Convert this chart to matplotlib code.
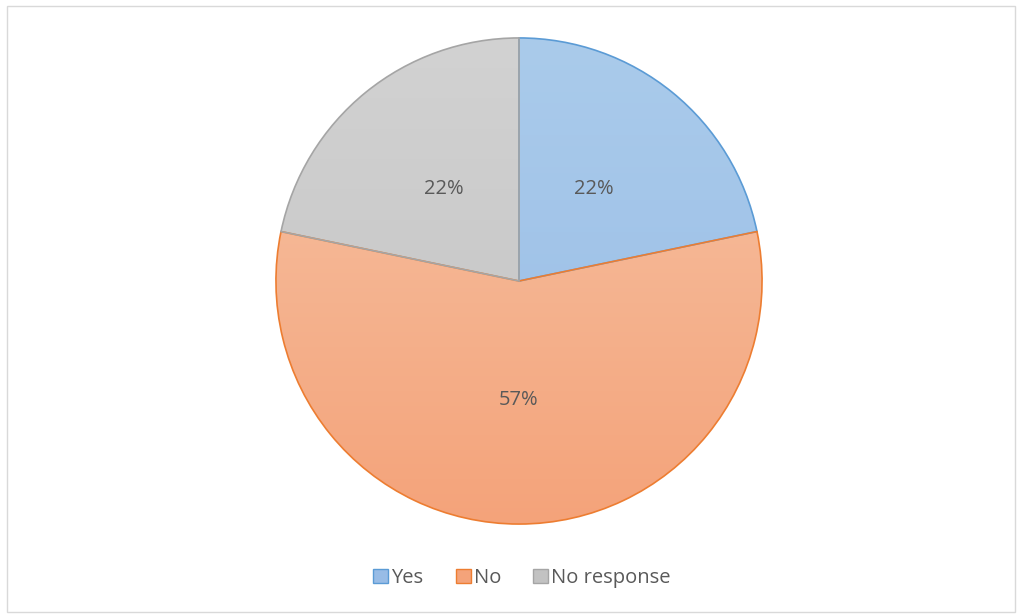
import matplotlib
matplotlib.use('Agg')
import matplotlib.pyplot as plt
import numpy as np
from matplotlib.patches import Rectangle

labels = ['Yes', 'No', 'No response']
counts = [5, 13, 5]
top_colors = ['#AACBEB', '#F6C4A6', '#D2D2D2']
bottom_colors = ['#98BCE6', '#F4A37A', '#C2C2C2']
edge_colors = ['#5B9BD5', '#ED7D31', '#A5A5A5']

plt.rcParams['font.family'] = ['Open Sans', 'DejaVu Sans']

fig = plt.figure(figsize=(10.22, 6.16), dpi=100)
fig.patches.append(Rectangle((0.007, 0.006), 0.986, 0.985, transform=fig.transFigure,
                             fill=False, edgecolor='#D9D9D9', linewidth=1))

cx, cy, r = 519, 281, 245
ax = fig.add_axes([(cx - r) / 1022, (616 - cy - r) / 616, 2 * r / 1022, 2 * r / 616])

wedges, texts, autotexts = ax.pie(counts, startangle=90, counterclock=False,
                                  colors=bottom_colors, autopct='%1.0f%%',
                                  pctdistance=0.49, radius=1,
                                  wedgeprops=dict(linewidth=1.2),
                                  textprops=dict(color='#595959', fontsize=14.5))
ax.set_xlim(-1.008, 1.008)
ax.set_ylim(-1.008, 1.008)
ax.set_aspect('equal')

# vertical gradient fill clipped to each wedge
for w, tc, bc, ec in zip(wedges, top_colors, bottom_colors, edge_colors):
    w.set_facecolor('none')
    w.set_edgecolor(ec)
    w.set_zorder(3)
    c1 = np.array(matplotlib.colors.to_rgb(tc))
    c2 = np.array(matplotlib.colors.to_rgb(bc))
    t = np.linspace(0, 1, 256)[:, None]
    grad = (c1 * (1 - t) + c2 * t)[:, None, :]
    im = ax.imshow(grad, extent=[-1, 1, -1, 1], origin='upper', aspect='auto', zorder=1)
    clip = matplotlib.patches.Wedge(w.center, w.r, w.theta1, w.theta2,
                                    transform=ax.transData)
    im.set_clip_path(clip)
for t in autotexts:
    t.set_zorder(5)

handles = [Rectangle((0, 0), 1, 1, facecolor=bc, edgecolor=ec, linewidth=1)
           for bc, ec in zip(bottom_colors, edge_colors)]
fig.legend(handles, labels, loc='center', bbox_to_anchor=(522 / 1022, 1 - 578 / 616),
           ncol=3, frameon=False, fontsize=14.5, handlelength=0.75, handleheight=0.75,
           handletextpad=0.15, columnspacing=1.6, labelcolor='#595959')

fig.savefig('out.png', dpi=100)
